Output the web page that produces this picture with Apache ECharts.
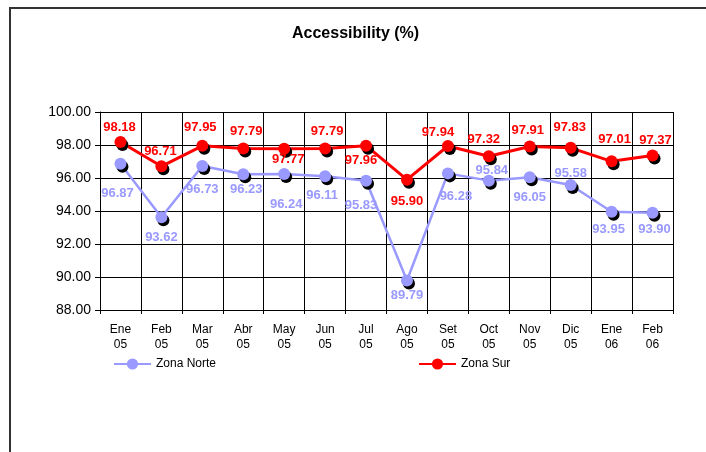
<!DOCTYPE html>
<html>
<head>
<meta charset="utf-8">
<script src="https://cdn.jsdelivr.net/npm/echarts@6/dist/echarts.min.js"></script>
<style>
  html, body { margin: 0; padding: 0; background: #fff; }
  #chart { width: 706px; height: 452px; }
</style>
</head>
<body>
<div id="chart"></div>
<script>
// Monthly accessibility per zone
const months = ['Ene\n05', 'Feb\n05', 'Mar\n05', 'Abr\n05', 'May\n05', 'Jun\n05', 'Jul\n05',
                'Ago\n05', 'Set\n05', 'Oct\n05', 'Nov\n05', 'Dic\n05', 'Ene\n06', 'Feb\n06'];
const zonaNorte = [96.87, 93.62, 96.73, 96.23, 96.24, 96.11, 95.83, 89.79, 96.28, 95.84, 96.05, 95.58, 93.95, 93.90];
const zonaSur   = [98.18, 96.71, 97.95, 97.79, 97.77, 97.79, 97.96, 95.90, 97.94, 97.32, 97.91, 97.83, 97.01, 97.37];
const yTicks = [88, 90, 92, 94, 96, 98, 100];

// Where each value label sits relative to its marker centre [dx, dy]
const norteLabelShift = [[-3, 30], [0, 20], [0, 23], [3, 15], [2, 30], [-3, 19], [-5, 25],
                         [0, 15], [8, 23], [3, -10], [0, 20], [0, -12], [-3, 18], [2, 17]];
const surLabelShift   = [[-1, -15], [-1, -15], [-2, -18], [3, -17], [4, 11], [2, -17], [-5, 15],
                         [0, 22], [-10, -14], [-5, -17], [-2, -16], [-1, -20], [3, -22], [3, -15]];

const FONT = 'Liberation Sans, Arial, sans-serif';
const NORTE = '#9999ff';
const SUR = '#ff0000';

function points(values, shifts) {
  return values.map((v, i) => ({ value: v, label: { offset: shifts[i] } }));
}

function lineSeries(name, color, width, values, shifts) {
  return {
    name: name,
    type: 'line',
    data: points(values, shifts),
    symbol: 'circle',
    symbolSize: 12,
    showAllSymbol: true,
    lineStyle: { color: color, width: width },
    itemStyle: { color: color, shadowColor: '#000', shadowBlur: 0, shadowOffsetX: 2, shadowOffsetY: 3 },
    label: {
      show: true,
      position: 'inside',
      color: color,
      fontFamily: FONT,
      fontWeight: 'bold',
      fontSize: 13,
      formatter: p => p.value.toFixed(2)
    },
    emphasis: { disabled: true },
    animation: false
  };
}

function legendFor(name, left) {
  return {
    data: [name], left: left, top: 358, padding: 0,
    itemWidth: 37, itemHeight: 14, itemGap: 3,
    textStyle: { fontFamily: FONT, fontSize: 12, color: '#000' },
    itemStyle: { shadowColor: 'transparent', shadowOffsetX: 0, shadowOffsetY: 0 }
  };
}

const chart = echarts.init(document.getElementById('chart'), null, { renderer: 'canvas' });
chart.setOption({
  backgroundColor: '#fff',
  animation: false,
  title: {
    text: 'Accessibility (%)',
    left: 292,
    top: 26,
    padding: 0,
    textStyle: { fontFamily: FONT, fontWeight: 'bold', fontSize: 16, color: '#000' }
  },
  grid: { left: 100, top: 112, width: 573, height: 198, containLabel: false },
  legend: [legendFor('Zona Norte', 113), legendFor('Zona Sur', 418)],
  xAxis: {
    type: 'category',
    data: months,
    boundaryGap: true,
    axisLine: { lineStyle: { color: '#000', width: 1 } },
    axisTick: { show: true, length: 4, lineStyle: { color: '#000' } },
    splitLine: { show: true, lineStyle: { color: '#000', width: 1 } },
    axisLabel: { interval: 0, margin: 12, color: '#000', fontFamily: FONT, fontSize: 12, lineHeight: 15 }
  },
  yAxis: {
    type: 'value',
    min: yTicks[0],
    max: yTicks[yTicks.length - 1],
    interval: yTicks[1] - yTicks[0],
    axisLine: { show: true, lineStyle: { color: '#000', width: 1 } },
    axisTick: { show: true, length: 5, lineStyle: { color: '#000' } },
    splitLine: { show: true, lineStyle: { color: '#000', width: 1 } },
    axisLabel: { margin: 9, color: '#000', fontFamily: FONT, fontSize: 14, formatter: v => v.toFixed(2) }
  },
  series: [
    lineSeries('Zona Norte', NORTE, 2.5, zonaNorte, norteLabelShift),
    lineSeries('Zona Sur', SUR, 3, zonaSur, surLabelShift)
  ],
  graphic: [
    {
      type: 'polyline',
      shape: { points: [[10, 452], [10, 8], [706, 8]] },
      style: { stroke: '#333', lineWidth: 2, fill: null },
      silent: true
    }
  ]
});
</script>
</body>
</html>
